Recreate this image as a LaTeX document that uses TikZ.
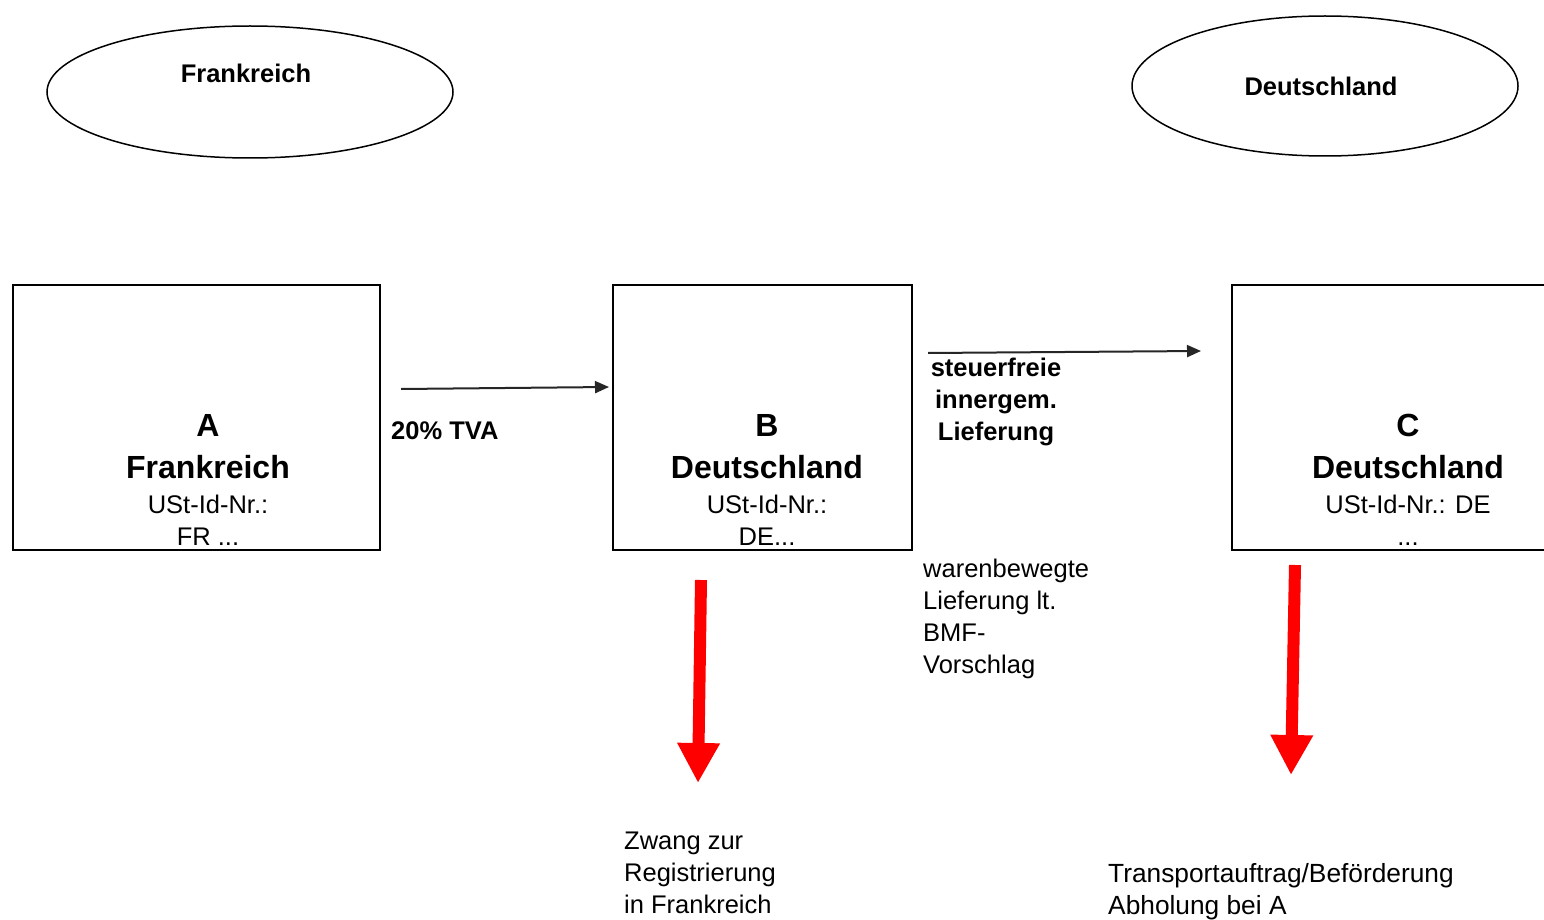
\documentclass[tikz,border=0pt]{standalone}
\usepackage{fontspec}
\setmainfont{Liberation Sans}
\usetikzlibrary{arrows.meta,shapes.geometric}
\begin{document}
\begin{tikzpicture}[x=1pt,y=-1pt,
  regionshape/.style={draw, ellipse, line width=1.5pt, inner sep=0pt},
  partybox/.style={draw, rectangle, line width=2pt, inner sep=0pt},
  regiontext/.style={font=\fontsize{25.5}{30}\selectfont\bfseries, inner sep=0pt},
  boxtext/.style={font=\fontsize{25.5}{32}\selectfont, align=center, inner sep=0pt, anchor=north},
  note/.style={font=\fontsize{25.5}{32}\selectfont, align=left, inner sep=0pt, anchor=north west},
  flow/.style={-{Triangle[length=14pt,width=12pt]}, line width=2pt, black!85},
  consequence/.style={-{Triangle[length=40pt,width=40pt]}, line width=12pt, red},
]
\clip (0,0) rectangle (1544,920);
\useasboundingbox (0,0) rectangle (1544,920);
\fill[white] (0,0) rectangle (1544,920);

% regions
\node[regionshape, minimum width=406pt, minimum height=132pt] (fr) at (250,92) {};
\node[regiontext] (frname) at (246,73) {Frankreich};
\node[regionshape, minimum width=386pt, minimum height=140pt] (de) at (1325,86) {};
\node[regiontext] (dename) at (1321,86) {Deutschland};

% parties
\node[partybox, minimum width=367pt, minimum height=265pt] (A) at (196.5,417.5) {};
\node[boxtext] (Atext) at (208,414) {{\fontsize{32}{32}\selectfont\bfseries A}\\[10pt]{\fontsize{32}{32}\selectfont\bfseries Frankreich}\\[3pt]USt-Id-Nr.:\\FR ...};

\node[partybox, minimum width=299pt, minimum height=265pt] (B) at (762.5,417.5) {};
\node[boxtext] (Btext) at (767,414) {{\fontsize{32}{32}\selectfont\bfseries B}\\[10pt]{\fontsize{32}{32}\selectfont\bfseries Deutschland}\\[3pt]USt-Id-Nr.:\\DE...};

\node[partybox, minimum width=352pt, minimum height=265pt] (C) at (1408,417.5) {};
\node[boxtext] (Ctext) at (1408,414) {{\fontsize{32}{32}\selectfont\bfseries C}\\[10pt]{\fontsize{32}{32}\selectfont\bfseries Deutschland}\\[3pt]USt-Id-Nr.: DE\\...};

% flow arrows
\coordinate (f1s) at (401,389);
\coordinate (f1e) at (609,387);
\draw[flow] (f1s) -- (f1e);
\node[font=\fontsize{25.5}{32}\selectfont\bfseries, inner sep=0pt, anchor=north west] (tva) at (391,421) {20\% TVA};

\coordinate (f2s) at (928,353);
\coordinate (f2e) at (1201,351);
\draw[flow] (f2s) -- (f2e);
\node[font=\fontsize{25.5}{32}\selectfont\bfseries, align=center, inner sep=0pt, anchor=north] (stf) at (996,358) {steuerfreie\\innergem.\\Lieferung};

\node[note] (wb) at (923,559) {warenbewegte\\Lieferung lt.\\BMF-\\Vorschlag};

% consequences
\coordinate (r1s) at (701,580);
\coordinate (r1e) at (698,783);
\draw[consequence] (r1s) -- (r1e);
\node[note] (zw) at (624,832) {Zwang zur\\Registrierung\\in Frankreich};

\coordinate (r2s) at (1295,565);
\coordinate (r2e) at (1291,775);
\draw[consequence] (r2s) -- (r2e);
\node[note, font=\fontsize{26.3}{32}\selectfont] (tr) at (1108,863) {Transportauftrag/Beförderung\\Abholung bei A};
\end{tikzpicture}
\end{document}
